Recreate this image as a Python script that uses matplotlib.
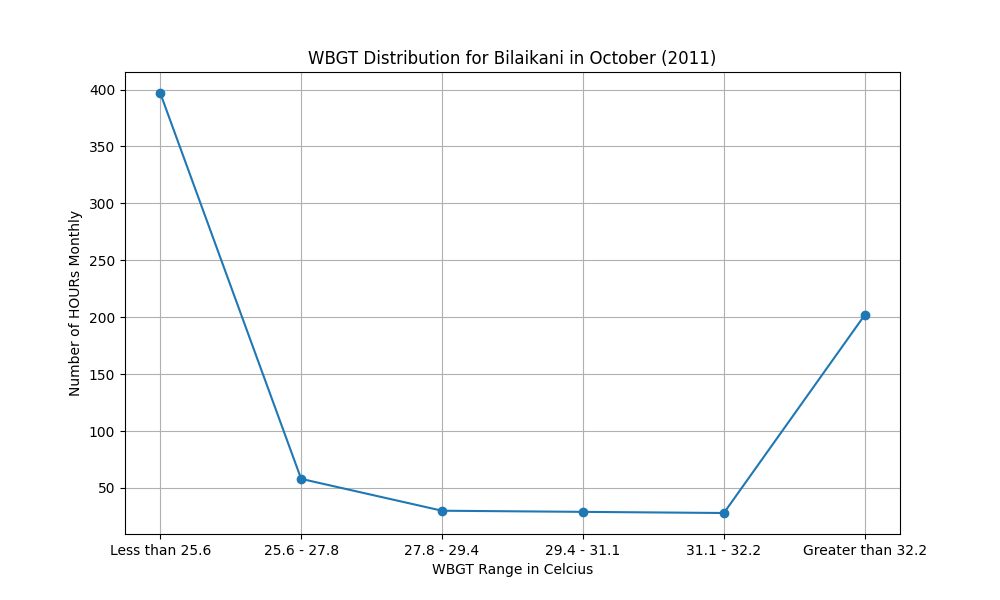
import matplotlib
matplotlib.use("Agg")
import matplotlib.pyplot as plt

ranges = ["Less than 25.6", "25.6 - 27.8", "27.8 - 29.4", "29.4 - 31.1", "31.1 - 32.2", "Greater than 32.2"]
hours = [397, 58, 30, 29, 28, 202]

fig, ax = plt.subplots(figsize=(10, 6), dpi=100)
plt.plot(ranges, hours, marker="o")
plt.title("WBGT Distribution for Bilaikani in October (2011)")
plt.xlabel("WBGT Range in Celcius")
plt.ylabel("Number of HOURs Monthly")
plt.grid(True)
plt.savefig("out.png")
